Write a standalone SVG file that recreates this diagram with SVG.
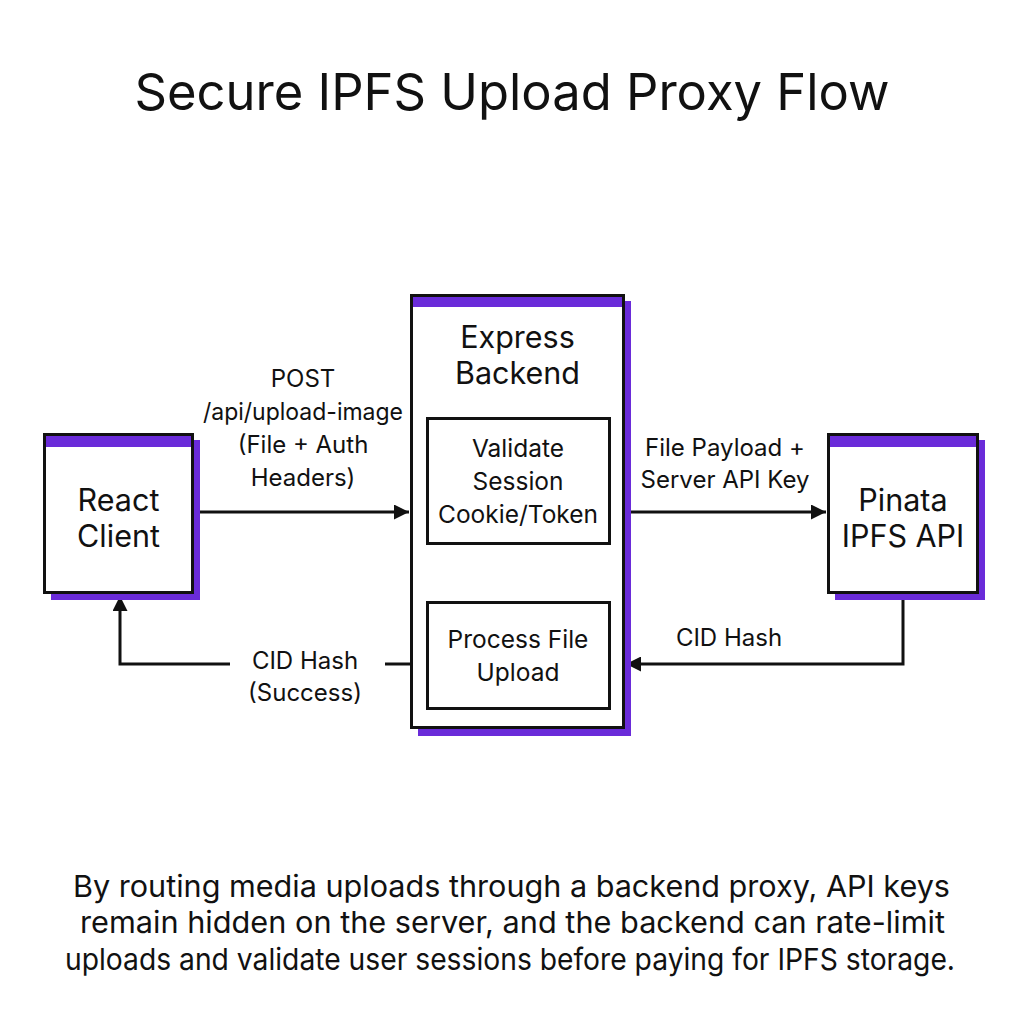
<svg xmlns="http://www.w3.org/2000/svg" width="1024" height="1024" viewBox="0 0 1024 1024">
<defs>
<style>
text{font-family:Inter,"Noto Sans","Liberation Sans",sans-serif;fill:#111;text-anchor:middle}
.title{font-size:50.5px}
.node{font-size:30.5px}
.sub{font-size:24.5px}
.lbl{font-size:24px}
.foot{font-size:30px}
.box{fill:#fff;stroke:#111;stroke-width:3}
.shadow{fill:#6a2bd9}
.bar{fill:#6a2bd9}
.edge{fill:none;stroke:#111;stroke-width:3}
</style>
<marker id="arr" viewBox="0 0 10 10" refX="10" refY="5" markerWidth="5" markerHeight="5" markerUnits="strokeWidth" orient="auto">
<path d="M0,0 L10,5 L0,10 z" fill="#111"/>
</marker>
</defs>
<rect width="1024" height="1024" fill="#fff"/>
<text class="title" x="512" y="110" textLength="755" lengthAdjust="spacingAndGlyphs">Secure IPFS Upload Proxy Flow</text>

<g id="connectors">
<line class="edge" x1="193" y1="512" x2="409" y2="512" marker-end="url(#arr)"/>
<line class="edge" x1="624" y1="512" x2="826" y2="512" marker-end="url(#arr)"/>
<polyline class="edge" points="903,593 903,664 626,664" marker-end="url(#arr)"/>
<polyline class="edge" points="411,664 385,664"/>
<polyline class="edge" points="230,664 120,664 120,596" marker-end="url(#arr)"/>
<line class="edge" x1="517" y1="544" x2="517" y2="600" marker-end="url(#arr)"/>
</g>

<g id="labels">
<text class="lbl" x="303" y="387">POST</text>
<text class="lbl" x="303" y="420" textLength="200" lengthAdjust="spacingAndGlyphs">/api/upload-image</text>
<text class="lbl" x="303" y="453">(File + Auth</text>
<text class="lbl" x="303" y="486">Headers)</text>
<text class="lbl" x="725" y="456">File Payload +</text>
<text class="lbl" x="725" y="488">Server API Key</text>
<text class="lbl" x="729" y="646">CID Hash</text>
<text class="lbl" x="305" y="669">CID Hash</text>
<text class="lbl" x="305" y="701">(Success)</text>
</g>

<g id="react-client">
<rect class="shadow" x="51" y="440" width="149" height="160"/>
<rect class="box" x="44.5" y="434.5" width="148" height="158"/>
<rect class="bar" x="46" y="436" width="145" height="11"/>
<text class="node" x="118.5" y="511">React</text>
<text class="node" x="118.5" y="547">Client</text>
</g>

<g id="express-backend">
<rect class="shadow" x="418" y="301" width="213" height="435"/>
<rect class="box" x="411.5" y="295.5" width="212" height="432"/>
<rect class="bar" x="413" y="297" width="209" height="10"/>
<text class="node" x="517.5" y="348">Express</text>
<text class="node" x="517.5" y="384">Backend</text>
</g>

<g id="validate-session">
<rect class="box" x="427.5" y="418.5" width="182" height="125"/>
<text class="sub" x="518" y="457">Validate</text>
<text class="sub" x="518" y="490">Session</text>
<text class="sub" x="518" y="523">Cookie/Token</text>
</g>

<g id="process-upload">
<rect class="box" x="427.5" y="602.5" width="182" height="106"/>
<text class="sub" x="518" y="648">Process File</text>
<text class="sub" x="518" y="681">Upload</text>
</g>

<g id="pinata-api">
<rect class="shadow" x="835" y="440" width="150" height="160"/>
<rect class="box" x="828.5" y="434.5" width="149" height="158"/>
<rect class="bar" x="830" y="436" width="146" height="11"/>
<text class="node" x="903" y="511">Pinata</text>
<text class="node" x="903" y="547">IPFS API</text>
</g>

<g id="footnote">
<text class="foot" x="511.5" y="897" textLength="877" lengthAdjust="spacingAndGlyphs">By routing media uploads through a backend proxy, API keys</text>
<text class="foot" x="512.5" y="933" textLength="865" lengthAdjust="spacingAndGlyphs">remain hidden on the server, and the backend can rate-limit</text>
<text class="foot" x="510" y="970" textLength="890" lengthAdjust="spacingAndGlyphs">uploads and validate user sessions before paying for IPFS storage.</text>
</g>
</svg>
